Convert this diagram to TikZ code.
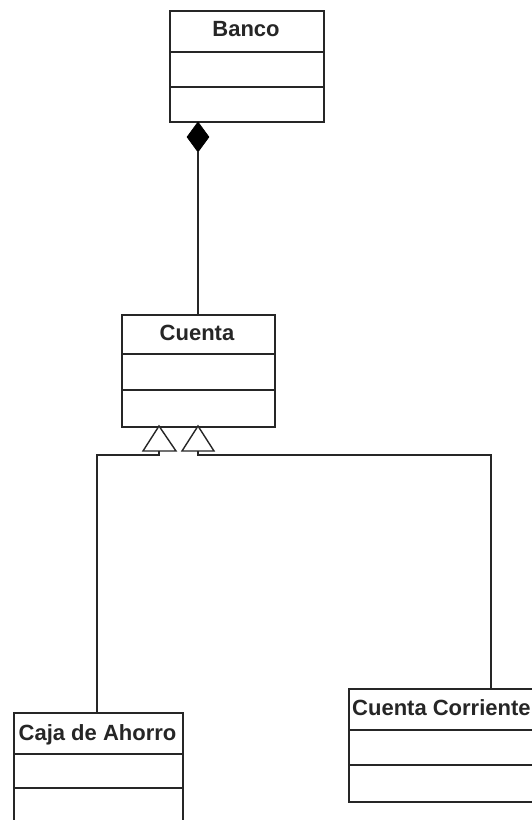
\documentclass[tikz,border=0pt]{standalone}
\usepackage{fontspec}
\setmainfont{Liberation Sans}
\usetikzlibrary{shapes.geometric}
\begin{document}
\begin{tikzpicture}[x=1pt,y=-1pt,
  ln/.style={line width=1.6pt, draw=black!85},
  classbox/.style={ln, anchor=north west, inner sep=0pt, fill=white},
  title/.style={font=\fontsize{22}{26}\selectfont\bfseries, anchor=base, inner sep=0pt, text=black!85},
  compdiamond/.style={diamond, fill=black, draw=black, line width=0.8pt, inner sep=0pt, minimum width=22pt, minimum height=30pt},
  inh/.style={ln, fill=white, line width=1.4pt}
]
\useasboundingbox[fill=white] (0,0) rectangle (531,820);
% Banco
\node[classbox, minimum width=154pt, minimum height=111pt] (banco) at (169,10) {};
\draw[ln] (169,52) -- (323,52) (169,87) -- (323,87);
\node[title] (tb) at (246,36.5) {Banco};
% Cuenta
\node[classbox, minimum width=153pt, minimum height=112pt] (cuenta) at (121,314) {};
\draw[ln] (121,354) -- (274,354) (121,390) -- (274,390);
\node[title] (tc) at (197,340) {Cuenta};
% Caja de Ahorro
\node[classbox, minimum width=169pt, minimum height=130pt] (caja) at (13,712) {};
\draw[ln] (13,754) -- (182,754) (13,788) -- (182,788);
\node[title] (tca) at (97.5,740) {Caja de Ahorro};
% Cuenta Corriente
\node[classbox, minimum width=200pt, minimum height=113pt] (corr) at (348,688) {};
\draw[ln] (348,730) -- (548,730) (348,765) -- (548,765);
\node[title, anchor=base west] (tcc) at (352,715) {Cuenta Corriente};
% composition
\node[compdiamond] (dia) at (198,137) {};
\draw[ln] (dia.south) -- (cuenta.north -| dia.south);
% inheritance triangles
\coordinate (apL) at (159,426);
\coordinate (apR) at (198,426);
\draw[inh] (apL) -- (176,451) -- (143,451) -- cycle;
\draw[inh] (apR) -- (214,451) -- (182,451) -- cycle;
\coordinate (bL) at (159,451);
\coordinate (bR) at (198,451);
\draw[ln] (caja.north -| 97,0) -- (97,455) -- (159,455) -- (bL);
\draw[ln] (491,688) -- (491,455) -- (198,455) -- (bR);
\end{tikzpicture}
\end{document}
